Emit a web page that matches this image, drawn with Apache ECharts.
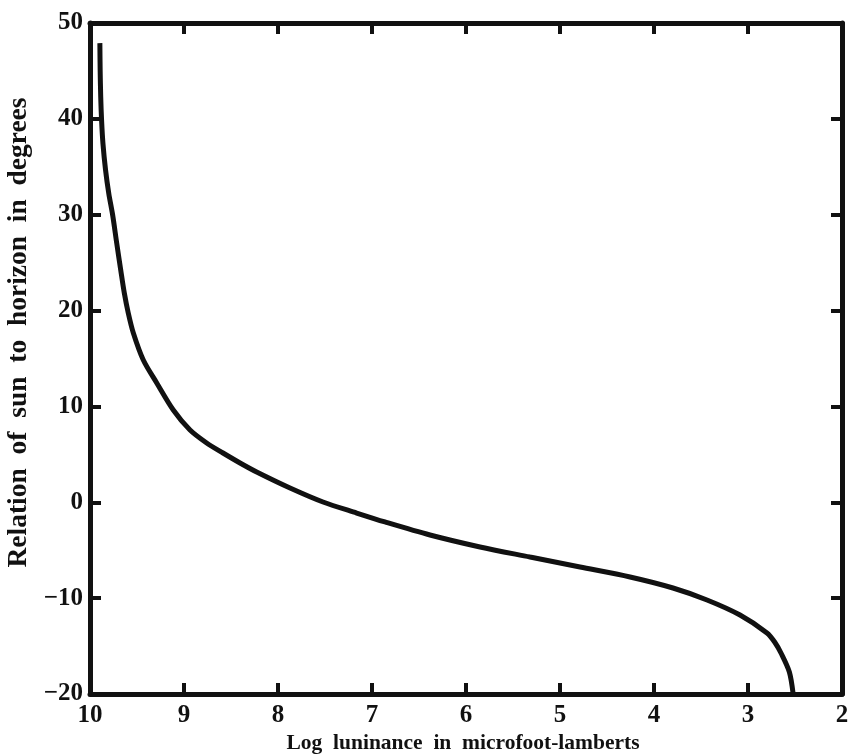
<!DOCTYPE html>
<html>
<head>
<meta charset="utf-8">
<script src="https://cdn.jsdelivr.net/npm/echarts@6/dist/echarts.min.js"></script>
<style>
  html, body { margin: 0; padding: 0; background: #fff; }
  #chart { width: 848px; height: 754px; }
</style>
</head>
<body>
<div id="chart"></div>
<script>
  // log luminance (x, reversed axis) vs. sun altitude (y)
  var logLum = [9.895, 9.892, 9.886, 9.877, 9.862, 9.835, 9.800, 9.759, 9.716, 9.673, 9.635, 9.593, 9.539, 9.433, 9.290, 9.114, 8.936, 8.759, 8.585, 8.404, 8.227, 7.872, 7.521, 7.163, 6.862, 6.383, 5.851, 5.319, 4.787, 4.255, 3.798, 3.436, 3.085, 2.798, 2.715, 2.645, 2.560, 2.521];
  var sunAlt = [47.9, 45.1, 42.3, 39.9, 37.4, 34.7, 32.2, 29.97, 27.05, 24.23, 21.83, 19.75, 17.66, 14.84, 12.45, 9.63, 7.54, 6.19, 5.14, 4.10, 3.16, 1.49, 0.03, -1.12, -2.05, -3.41, -4.66, -5.71, -6.75, -7.79, -8.94, -10.19, -11.76, -13.63, -14.6, -15.8, -17.7, -19.9];
  var xTicks = [10, 9, 8, 7, 6, 5, 4, 3, 2];
  var yTicks = [-20, -10, 0, 10, 20, 30, 40, 50];

  var ink = '#111';
  var font = 'Liberation Serif';

  var chart = echarts.init(document.getElementById('chart'));
  var pts = logLum.map(function (v, i) { return [v, sunAlt[i]]; });

  function frameAxis(pos) {
    return {
      type: 'value',
      position: pos,
      axisLine: { show: true, onZero: false, lineStyle: { color: ink, width: 5 } },
      axisTick: { show: true, inside: true, length: 11, lineStyle: { color: ink, width: 4 } },
      axisLabel: { show: false },
      splitLine: { show: false }
    };
  }

  var xTop = frameAxis('top');
  xTop.inverse = true;
  xTop.min = 2; xTop.max = 10; xTop.interval = 1;

  var yRight = frameAxis('right');
  yRight.min = -20; yRight.max = 50; yRight.interval = 10;

  var option = {
    backgroundColor: '#fff',
    animation: false,
    grid: { left: 90, right: 6, top: 23, bottom: 60, outerBoundsMode: 'none' },
    xAxis: [
      {
        type: 'value',
        position: 'bottom',
        inverse: true,
        min: xTicks[xTicks.length - 1],
        max: xTicks[0],
        interval: 1,
        name: 'Log  luninance  in  microfoot-lamberts',
        nameLocation: 'middle',
        nameGap: 30,
        nameTextStyle: { fontFamily: font, fontWeight: 'bold', fontSize: 21.5, color: ink, padding: [0, 6, 0, 0] },
        axisLine: { show: true, onZero: false, lineStyle: { color: ink, width: 5 } },
        axisTick: { show: true, inside: true, length: 11, lineStyle: { color: ink, width: 4 } },
        axisLabel: { margin: 9, fontFamily: font, fontWeight: 'bold', fontSize: 25, color: ink },
        splitLine: { show: false }
      },
      xTop
    ],
    yAxis: [
      {
        type: 'value',
        position: 'left',
        min: yTicks[0],
        max: yTicks[yTicks.length - 1],
        interval: 10,
        name: 'Relation  of  sun  to  horizon  in  degrees',
        nameLocation: 'middle',
        nameGap: 49,
        nameTextStyle: { fontFamily: font, fontWeight: 'bold', fontSize: 27.5, color: ink, padding: [0, 0, 0, 52] },
        axisLine: { show: true, onZero: false, lineStyle: { color: ink, width: 5 } },
        axisTick: { show: true, inside: true, length: 11, lineStyle: { color: ink, width: 4 } },
        axisLabel: {
          margin: 7, fontFamily: font, fontWeight: 'bold', fontSize: 25, color: ink,
          formatter: function (v) { return v < 0 ? '\u2212' + Math.abs(v) : String(v); }
        },
        splitLine: { show: false }
      },
      yRight
    ],
    series: [
      {
        type: 'line',
        data: pts,
        smooth: 0.3,
        symbol: 'none',
        lineStyle: { color: ink, width: 5 }
      }
    ]
  };

  chart.setOption(option);
</script>
</body>
</html>
